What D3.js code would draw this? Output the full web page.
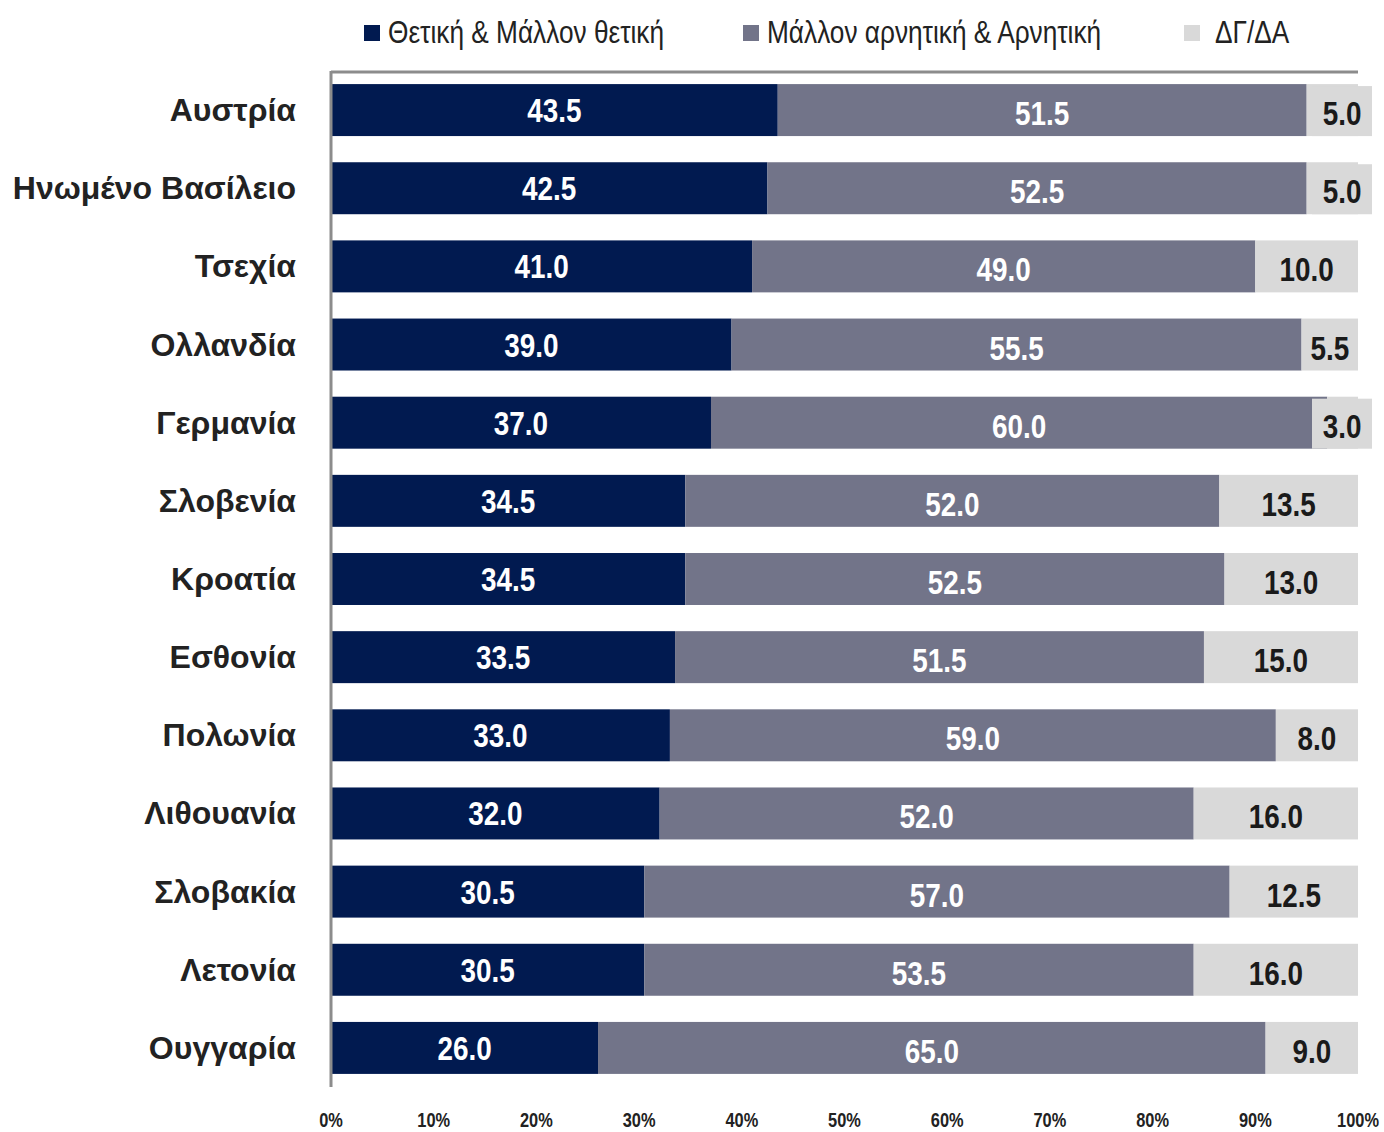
<!DOCTYPE html>
<html>
<head>
<meta charset="utf-8">
<script src="https://cdn.jsdelivr.net/npm/d3@7"></script>
<style>
  body { margin: 0; background: #fff; }
  svg { display: block; }
</style>
</head>
<body>
<svg id="chart" width="1384" height="1132"></svg>
<script>
const countries = ["Αυστρία", "Ηνωμένο Βασίλειο", "Τσεχία", "Ολλανδία", "Γερμανία", "Σλοβενία",
    "Κροατία", "Εσθονία", "Πολωνία", "Λιθουανία", "Σλοβακία", "Λετονία", "Ουγγαρία"];
const positive = [43.5, 42.5, 41.0, 39.0, 37.0, 34.5, 34.5, 33.5, 33.0, 32.0, 30.5, 30.5, 26.0];
const negative = [51.5, 52.5, 49.0, 55.5, 60.0, 52.0, 52.5, 51.5, 59.0, 52.0, 57.0, 53.5, 65.0];
const dontKnow = [5.0, 5.0, 10.0, 5.5, 3.0, 13.5, 13.0, 15.0, 8.0, 16.0, 12.5, 16.0, 9.0];
const seriesNames = ["Θετική & Μάλλον θετική", "Μάλλον αρνητική & Αρνητική", "ΔΓ/ΔΑ"];
const ticks = [0, 10, 20, 30, 40, 50, 60, 70, 80, 90, 100];

const colors = ["#011a50", "#727489", "#d9d9d9"];
const labelColors = ["#ffffff", "#ffffff", "#1a1a1a"];
const sans = "'Liberation Sans', Arial, sans-serif";
const narrowScale = 0.82; // Arial Narrow look

const svg = d3.select("#chart");

const x = d3.scaleLinear().domain([0, 100]).range([331, 1358]);
const y = d3.scaleBand().domain(countries).range([71, 1087])
    .paddingInner(0.335).paddingOuter(0.1675);

// rows -> stacked segments
const rows = countries.map((c, i) => ({ country: c, s0: positive[i], s1: negative[i], s2: dontKnow[i] }));
const stack = d3.stack().keys(["s0", "s1", "s2"])(rows);

//BARS
const layers = svg.selectAll(".layer").data(stack).enter().append("g")
    .attr("class", "layer")
    .attr("fill", (d, i) => colors[i]);

layers.selectAll("rect").data(d => d).enter().append("rect")
    .attr("x", d => x(d[0]))
    .attr("y", d => y(d.data.country))
    .attr("width", d => x(d[1]) - x(d[0]))
    .attr("height", y.bandwidth());

//AXIS LINES
svg.append("line")
    .attr("x1", x(0)).attr("x2", x(100))
    .attr("y1", 72).attr("y2", 72)
    .attr("stroke", "#8c8c8c").attr("stroke-width", 3);
svg.append("line")
    .attr("x1", x(0)).attr("x2", x(0))
    .attr("y1", 71).attr("y2", 1087)
    .attr("stroke", "#8c8c8c").attr("stroke-width", 3);

//VALUE LABELS
stack.forEach((layer, li) => {
    const g = svg.append("g").attr("class", "labels" + li);
    layer.forEach(d => {
        const v = d[1] - d[0];
        const w = x(d[1]) - x(d[0]);
        const cy = y(d.data.country) + y.bandwidth() / 2;
        let cx = x(d[0]) + w / 2;
        const boxed = li === 2 && w < 55;
        if (boxed) {
            cx = x(100) - 16;
            g.append("rect")
                .attr("x", cx - 30).attr("y", cy - 24)
                .attr("width", 60).attr("height", 50)
                .attr("fill", colors[2]);
        }
        g.append("text")
            .attr("transform", "translate(" + [cx, cy + (li === 0 ? 12 : 15)] + ") scale(" + narrowScale + ",1)")
            .attr("text-anchor", "middle")
            .attr("font-family", sans)
            .attr("font-weight", "bold")
            .attr("font-size", 34)
            .attr("fill", labelColors[li])
            .text(v.toFixed(1));
    });
});

//COUNTRY LABELS
svg.append("g").selectAll("text").data(countries).enter().append("text")
    .attr("x", 296)
    .attr("y", d => y(d) + y.bandwidth() / 2 + 11)
    .attr("text-anchor", "end")
    .attr("font-family", sans)
    .attr("font-weight", "bold")
    .attr("font-size", 32)
    .attr("fill", "#222")
    .text(d => d);

//TICK LABELS
svg.append("g").selectAll("text").data(ticks).enter().append("text")
    .attr("transform", d => "translate(" + [x(d), 1127] + ") scale(" + narrowScale + ",1)")
    .attr("text-anchor", "middle")
    .attr("font-family", sans)
    .attr("font-weight", "bold")
    .attr("font-size", 20)
    .attr("fill", "#222")
    .text(d => d + "%");

//LEGEND
const legendX = [364, 743, 1184];
const legend = svg.append("g").selectAll("g").data(seriesNames).enter().append("g")
    .attr("transform", (d, i) => "translate(" + [legendX[i], 25] + ")");
legend.append("rect")
    .attr("width", 16).attr("height", 16)
    .attr("fill", (d, i) => colors[i]);
legend.append("text")
    .attr("transform", (d, i) => "translate(" + [i === 2 ? 31 : 24, 18] + ") scale(" + narrowScale + ",1)")
    .attr("font-family", sans)
    .attr("font-size", 32)
    .attr("fill", "#222")
    .text(d => d);
</script>
</body>
</html>
